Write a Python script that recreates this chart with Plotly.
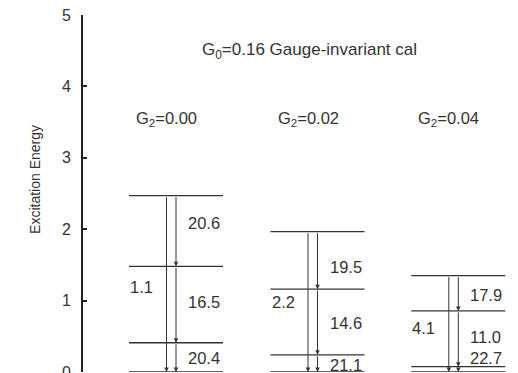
import plotly.graph_objects as go

# ---- data ----
g2_values = ["0.00", "0.02", "0.04"]
g0_value = "0.16"
levels = [
    [2.47, 1.48, 0.41, 0.0],
    [1.965, 1.16, 0.24, 0.0],
    [1.35, 0.855, 0.074, 0.0],
]
step_pct = [
    ["20.6", "16.5", "20.4"],
    ["19.5", "14.6", "21.1"],
    ["17.9", "11.0", "22.7"],
]
total_pct = ["1.1", "2.2", "4.1"]

# ---- layout helpers (positions) ----
col_center = [93, 234.5, 375.3]
half_w = 47
long_dx = -9.5
step_label_y = [
    [2.087, 0.98, 0.196],
    [1.47, 0.686, 0.098],
    [1.078, 0.494, 0.196],
]
total_label_y = [1.19, 0.98, 0.616]

FONT = "Liberation Sans, Arial, Helvetica, sans-serif"
INK = "#333333"

fig = go.Figure()
annotations = []

for i, lv in enumerate(levels):
    c = col_center[i]
    xs, ys = [], []
    for e in lv:
        xs += [c - half_w, c + half_w, None]
        ys += [e, e, None]
    fig.add_trace(go.Scatter(x=xs, y=ys, mode="lines",
                             line=dict(color=INK, width=1.3),
                             hoverinfo="skip", showlegend=False))
    # long arrow top -> ground
    annotations.append(dict(x=c + long_dx, y=lv[-1], ax=c + long_dx, ay=lv[0],
                            xref="x", yref="y", axref="x", ayref="y",
                            showarrow=True, arrowhead=2, arrowsize=0.9,
                            arrowwidth=1, arrowcolor=INK, standoff=0, text=""))
    # step arrows
    for k in range(len(lv) - 1):
        annotations.append(dict(x=c, y=lv[k + 1], ax=c, ay=lv[k],
                                xref="x", yref="y", axref="x", ayref="y",
                                showarrow=True, arrowhead=2, arrowsize=0.9,
                                arrowwidth=1, arrowcolor=INK, standoff=0, text=""))
        annotations.append(dict(x=c + 10, y=step_label_y[i][k], xref="x", yref="y",
                                text=step_pct[i][k], showarrow=False,
                                xanchor="left", yanchor="middle",
                                font=dict(family=FONT, size=16.5, color=INK)))
    annotations.append(dict(x=c - half_w - 1, y=total_label_y[i], xref="x", yref="y",
                            text=total_pct[i], showarrow=False,
                            xanchor="left", yanchor="middle",
                            font=dict(family=FONT, size=16.5, color=INK)))
    annotations.append(dict(x=c + long_dx, y=3.55, xref="x", yref="y",
                            text="G<sub>2</sub>=" + g2_values[i], showarrow=False,
                            xanchor="center", yanchor="middle",
                            font=dict(family=FONT, size=16.5, color=INK)))

annotations.append(dict(x=226, y=4.5, xref="x", yref="y",
                        text="G<sub>0</sub>=" + g0_value + " Gauge-invariant cal",
                        showarrow=False, xanchor="center", yanchor="middle",
                        font=dict(family=FONT, size=17, color=INK)))

# y-axis title as rotated annotation (reference centers it above plot middle)
annotations.append(dict(x=(35 - 83) / 435, y=2.69, xref="paper", yref="y",
                        text="Excitation Energy", textangle=-90, showarrow=False,
                        xanchor="center", yanchor="middle",
                        font=dict(family=FONT, size=14, color=INK)))

fig.update_layout(
    width=518, height=373,
    margin=dict(l=83, r=0, t=15, b=1, autoexpand=False),
    plot_bgcolor="white", paper_bgcolor="white",
    annotations=annotations,
    xaxis=dict(range=[0, 435], visible=False, fixedrange=True, automargin=False),
    yaxis=dict(range=[0, 5], dtick=1, showgrid=False, zeroline=False,
               automargin=False,
               showline=True, linecolor="#222222", linewidth=2,
               ticks="inside", ticklen=4, tickwidth=2, tickcolor="#222222",
               ticklabeloverflow="allow", ticklabelstandoff=7,
               tickfont=dict(family=FONT, size=16, color=INK)),
)

fig.write_html("out.html")
